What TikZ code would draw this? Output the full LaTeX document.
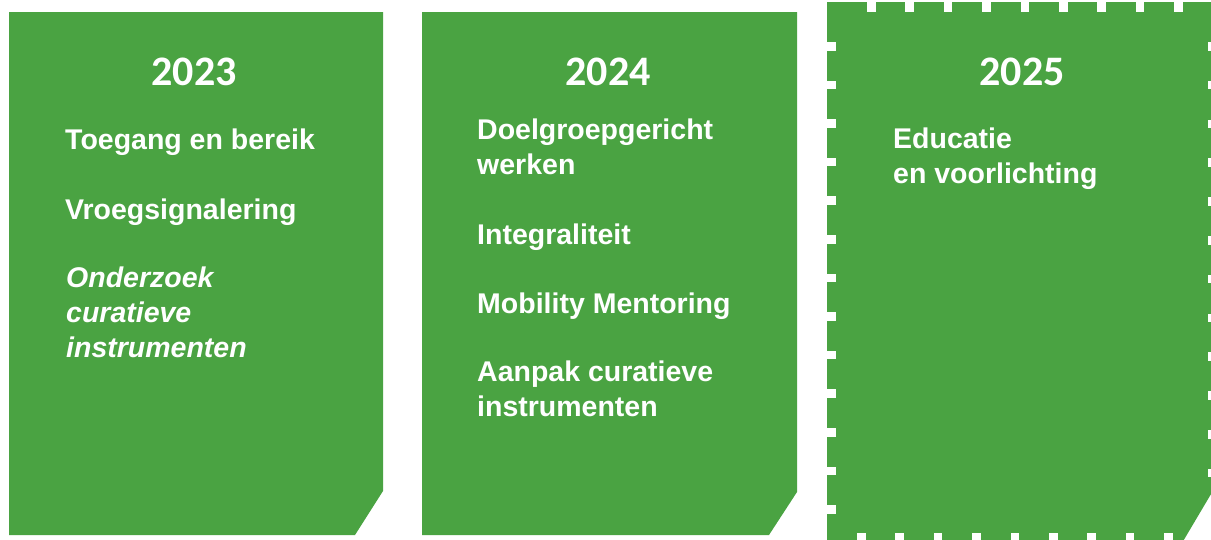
\documentclass[tikz,border=0pt]{standalone}
\usepackage{fontspec}
\setmainfont{Liberation Sans}
\newfontfamily\yearfont{Carlito}
\usetikzlibrary{positioning}

\definecolor{planGreen}{RGB}{74,163,66}

\begin{document}
\begin{tikzpicture}
[x=1pt,y=-1pt,
card/.style={fill=planGreen},
gap/.style={fill=white},
year/.style={text=white,inner sep=0pt,anchor=base,
font=\yearfont\bfseries\fontsize{42}{42}\selectfont},
% multi-line items sit on the baseline of their last line
item/.style={text=white,inner sep=0pt,anchor=base west,align=left,
font=\bfseries\fontsize{28.5}{35}\selectfont}]

\useasboundingbox (0,0) rectangle (1211,539);

% the three year cards, bottom right corner cut off
\fill[card] (9,12) -- (383,12) -- (383,491) -- (355,535) -- (9,535) -- cycle;
\fill[card] (422,12) -- (797,12) -- (797,492) -- (769,535) -- (422,535) -- cycle;
\fill[card] (827,2) -- (1214,2) -- (1214,489) -- (1182,543) -- (827,543) -- cycle;

% white notches along the edge of the 2025 card
\foreach \k in {0,...,8}
  \fill[gap] (867+38.4*\k,1) rectangle +(8.5,11);
\foreach \k in {0,...,12}
  \fill[gap] (826,42+38.6*\k) rectangle +(10,8.5);
\foreach \k in {0,...,11}
  \fill[gap] (1208,42+38.8*\k) rectangle +(7,8.5);
\foreach \k in {0,...,8}
  \fill[gap] (857+38.4*\k,533) rectangle +(8.5,11);

% years
\node[year] (y2023) at (194,85) {2023};
\node[year] (y2024) at (608,85) {2024};
\node[year] (y2025) at (1022,85) {2025};

% 2023
\node[item] (toegang) at (65,149) {Toegang en bereik};
\node[item] (vroeg) at (65,219) {Vroegsignalering};
\node[item] (onderzoek) at (66,357) {\itshape Onderzoek\\\itshape curatieve\\\itshape instrumenten};

% 2024
\node[item] (doelgroep) at (477,174) {Doelgroepgericht\\werken};
\node[item] (integraal) at (477,244) {Integraliteit};
\node[item] (mobility) at (477,313) {Mobility Mentoring};
\node[item] (aanpak) at (477,416) {Aanpak curatieve\\instrumenten};

% 2025
\node[item] (educatie) at (893,183) {Educatie\\en voorlichting};

\end{tikzpicture}
\end{document}
